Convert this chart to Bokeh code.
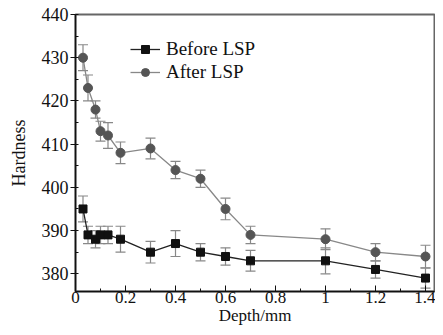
from bokeh.plotting import figure
from bokeh.models import (ColumnDataSource, Whisker, TeeHead, Legend, LegendItem,
                          SingleIntervalTicker, Range1d)
from bokeh.embed import file_html
from bokeh.resources import INLINE

depth = [0.03, 0.05, 0.08, 0.10, 0.13, 0.18, 0.3, 0.4, 0.5, 0.6, 0.7, 1.0, 1.2, 1.4]
before = [395, 389, 388, 389, 389, 388, 385, 387, 385, 384, 383, 383, 381, 379]
before_err = [3, 2, 2, 2, 2, 3, 2.5, 3, 2, 2, 2.4, 3, 2, 2.3]
after = [430, 423, 418, 413, 412, 408, 409, 404, 402, 395, 389, 388, 385, 384]
after_err = [3, 3, 2, 2.3, 3, 2.5, 2.4, 2, 2, 2.5, 2, 2.4, 2, 2.6]

FONT = "Liberation Serif"

p = figure(width=435, height=327, output_backend="svg", toolbar_location=None,
           x_range=Range1d(0, 1.436), y_range=Range1d(375.9, 440),
           min_border_left=75, min_border_right=1, min_border_top=14, min_border_bottom=36)
p.xgrid.visible = False
p.ygrid.visible = False
p.outline_line_color = "#666666"
p.outline_line_width = 2
p.background_fill_color = "white"
p.border_fill_color = "white"

src_b = ColumnDataSource(dict(x=depth, y=before,
                              lo=[v - e for v, e in zip(before, before_err)],
                              hi=[v + e for v, e in zip(before, before_err)]))
src_a = ColumnDataSource(dict(x=depth, y=after,
                              lo=[v - e for v, e in zip(after, after_err)],
                              hi=[v + e for v, e in zip(after, after_err)]))

for src in (src_a, src_b):
    w = Whisker(source=src, base="x", upper="hi", lower="lo",
                line_color="#888888", line_width=1.2,
                upper_head=TeeHead(size=10, line_color="#888888", line_width=1.2),
                lower_head=TeeHead(size=10, line_color="#888888", line_width=1.2))
    p.add_layout(w)

la = p.line("x", "y", source=src_a, line_color="#888888", line_width=1.3)
ma = p.scatter("x", "y", source=src_a, marker="circle", size=9,
               fill_color="#555555", line_color="#555555")
lb = p.line("x", "y", source=src_b, line_color="#222222", line_width=1.3)
mb = p.scatter("x", "y", source=src_b, marker="square", size=8,
               fill_color="#111111", line_color="#111111")

legend = Legend(items=[LegendItem(label="Before LSP", renderers=[lb, mb]),
                       LegendItem(label="After LSP", renderers=[la, ma])],
                location=(55, 208), glyph_width=30, glyph_height=20,
                label_height=20, spacing=1, padding=0, margin=0,
                label_standoff=6, border_line_color=None,
                background_fill_alpha=0,
                label_text_font=FONT, label_text_font_size="19px",
                label_text_color="#111111")
p.add_layout(legend)

p.xaxis.ticker = SingleIntervalTicker(interval=0.2, num_minor_ticks=2)
p.yaxis.ticker = SingleIntervalTicker(interval=10, num_minor_ticks=2)
p.xaxis.major_label_overrides = {0: "0"}

p.xaxis.axis_label = "Depth/mm"
p.yaxis.axis_label = "Hardness"
for ax in (p.xaxis, p.yaxis):
    ax.axis_line_color = "#111111"
    ax.axis_line_width = 1.5
    ax.major_tick_line_color = "#111111"
    ax.minor_tick_line_color = "#111111"
    ax.major_label_text_font = FONT
    ax.major_label_text_color = "#111111"
    ax.axis_label_text_font = FONT
    ax.axis_label_text_font_style = "normal"
    ax.axis_label_text_color = "#111111"

p.xaxis.major_label_text_font_size = "17px"
p.xaxis.axis_label_text_font_size = "17px"
p.yaxis.major_label_text_font_size = "18px"
p.yaxis.axis_label_text_font_size = "18px"

p.xaxis.major_tick_in = 6
p.xaxis.major_tick_out = 0
p.xaxis.minor_tick_in = 3
p.xaxis.minor_tick_out = 0
p.xaxis.major_label_standoff = 0
p.xaxis.axis_label_standoff = 0

p.yaxis.major_tick_in = 0
p.yaxis.major_tick_out = 5
p.yaxis.minor_tick_in = 3
p.yaxis.minor_tick_out = 0
p.yaxis.major_label_standoff = 2
p.yaxis.axis_label_standoff = 10

open("out.html", "w").write(file_html(p, INLINE))
